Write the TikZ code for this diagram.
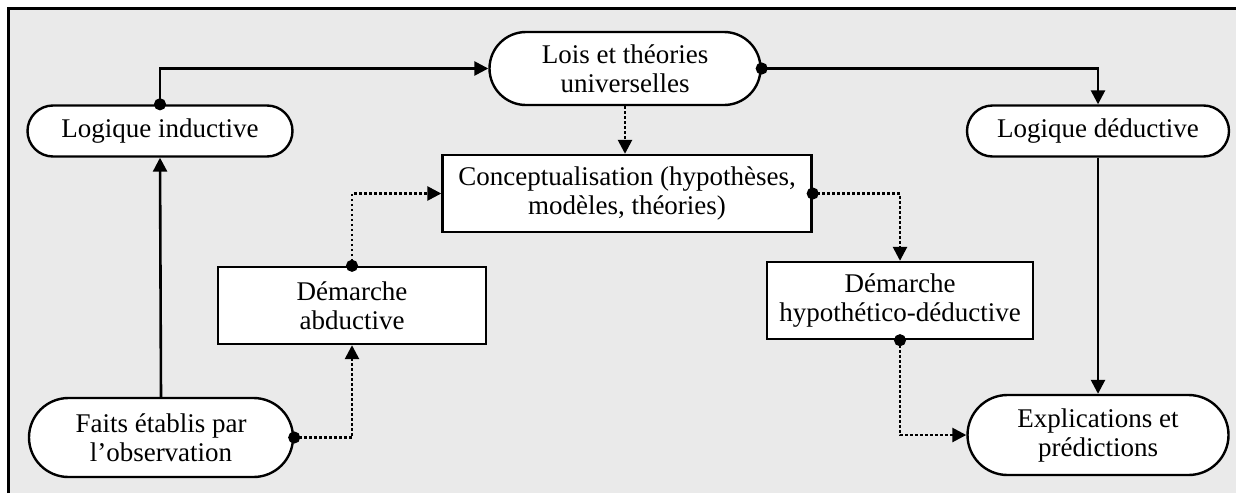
\documentclass[tikz,border=0pt]{standalone}
\usepackage{fontspec}
\setmainfont{Liberation Serif}
\usetikzlibrary{arrows.meta,shapes.misc}
\definecolor{fondgris}{RGB}{234,234,234}

\begin{document}
\begin{tikzpicture}[x=0.5pt,y=-0.5pt,
		font=\fontsize{13.5}{14.5}\selectfont,
		capsule/.style={rounded rectangle,draw,line width=1.2pt,fill=white,align=center,inner sep=1pt,minimum width=#1},
		cadre/.style={rectangle,draw,line width=1.2pt,fill=white,align=center,inner sep=1pt,minimum width=#1,minimum height=38.5pt},
		lien/.style={line width=1.3pt,-{Triangle[width=7pt,length=7pt]}},
		lienpt/.style={lien,dash pattern=on 1.3pt off 1.2pt},
		debut/.style={shorten <=-3pt,{Circle[length=6pt]}-{Triangle[width=7pt,length=7pt]}}]
		\useasboundingbox (0,0) rectangle (1236,493);
		% fond et cadre
		\fill[fondgris] (8,8) rectangle (1236,493);
		\draw[line width=1.5pt] (8,493) -- (8,8) -- (1236,8);

		% noeuds
		\node[capsule=134.5pt,minimum height=25.5pt] (ind) at (160,131) {Logique inductive};
		\node[capsule=137.5pt,minimum height=36.5pt] (lois) at (625,68.5) {Lois et théories\\universelles};
		\node[capsule=133pt,minimum height=25.5pt] (ded) at (1098,131) {Logique déductive};
		\node[cadre=184.5pt] (conc) at (627,193.5) {Conceptualisation (hypothèses,\\modèles, théories)};
		\node[cadre=134pt] (abd) at (352,305.5) {Démarche\\abductive};
		\node[cadre=133pt] (hyp) at (900,300.5) {Démarche\\hypothético-déductive};
		\node[capsule=134pt,minimum height=39.5pt] (faits) at (161,437.5) {Faits établis par\\l’observation};
		\node[capsule=132.5pt,minimum height=40pt] (expl) at (1098,435) {Explications et\\prédictions};

		% liens
		\draw[lien,debut] (ind.north) |- (lois.west);
		\draw[lien,debut] (lois.east) -| (ded.north);
		\draw[lienpt] (lois.south) -- (lois.south |- conc.north);
		\draw[lien] (faits.north) -- (ind.south);
		\draw[lienpt,debut] (faits.east) -| (abd.south);
		\draw[lienpt,debut] (abd.north) |- (conc.west);
		\draw[lienpt,debut] (conc.east) -| (hyp.north);
		\draw[lienpt,debut] (hyp.south) |- (expl.west);
		\draw[lien] (ded.south) -- (expl.north);
	\end{tikzpicture}
\end{document}
